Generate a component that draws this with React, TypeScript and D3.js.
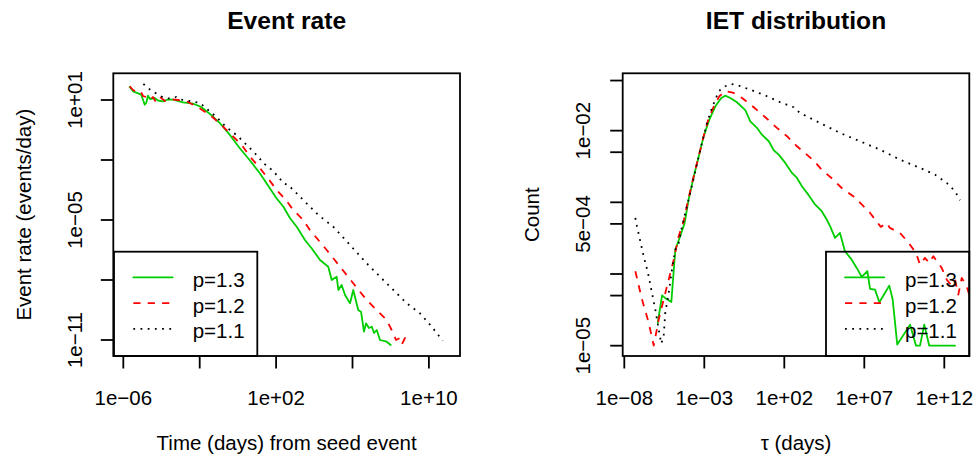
import React from "react";
import * as d3 from "d3";

// ---------- DATA (log10 values) ----------
// Left panel: Event rate vs time
const rateP13LogT = [-5.665,-5.49,-5.06,-4.88,-4.80,-4.71,-4.60,-4.36,-4.18,-3.92,-3.66,-3.40,-2.87,-2.35,-1.92,-1.48,-0.95,-0.43,0.09,0.62,1.14,1.49,2.01,2.38,2.73,3.08,3.51,3.86,4.30,4.73,4.91,5.17,5.26,5.43,5.61,5.87,6.04,6.30,6.45,6.60,6.71,6.86,7.01,7.13,7.27,7.44,7.79,8.0];
const rateP13LogR = [1.65,1.435,1.265,0.765,0.85,1.215,1.05,1.10,0.975,0.935,1.025,1.015,0.885,0.815,0.65,0.315,-0.15,-0.735,-1.4,-2.015,-2.65,-3.15,-3.9,-4.335,-4.915,-5.335,-6.0,-6.415,-7.0,-7.335,-8.0,-7.835,-8.5,-8.25,-8.75,-9.165,-8.5,-9.5,-9.6,-10.585,-10.165,-10.4,-10.335,-10.65,-10.5,-11.0,-11.085,-11.25];
const rateP12LogT = [-5.665,-5.49,-5.23,-5.07,-4.97,-4.81,-4.60,-4.45,-4.29,-4.08,-3.82,-3.55,-3.14,-2.72,-2.18,-1.48,-0.87,-0.35,0.20,0.62,1.16,1.63,2.03,2.50,2.90,3.37,3.77,4.65,5.35,6.04,6.74,7.35,7.79,8.05,8.28,8.49,8.59,8.75,8.80];
const rateP12LogR = [1.685,1.5,1.35,1.4,1.2,1.15,1.0,1.15,0.9,1.15,0.95,1.05,1.0,0.95,0.685,0.265,-0.235,-0.735,-1.25,-1.815,-2.415,-2.985,-3.5,-3.985,-4.5,-4.95,-5.5,-6.5,-7.335,-8.165,-9.0,-9.585,-10.0,-10.5,-11.0,-10.9,-11.2,-10.9,-11.25];
const rateP11LogT = [-4.95,-4.69,-4.50,-4.29,-4.08,-3.82,-3.55,-3.24,-3.03,-2.51,-1.98,-1.13,-0.61,0.005,0.53,1.05,1.33,1.58,2.10,2.38,2.62,3.15,3.42,3.67,4.21,4.99,5.87,6.74,7.44,8.14,8.84,9.53,10.15,10.72];
const rateP11LogR = [1.8,1.585,1.45,1.335,1.2,1.1,1.075,1.15,1.025,0.95,0.85,0.15,-0.35,-0.815,-1.315,-1.815,-2.165,-2.315,-2.815,-3.165,-3.235,-3.735,-4.0,-4.235,-4.75,-5.335,-6.25,-7.165,-7.835,-8.5,-9.165,-9.665,-10.335,-11.035];

// Right panel: IET distribution
const ietP13LogTau = [-5.91,-5.64,-5.47,-5.06,-4.81,-4.5,-4.23,-3.98,-3.66,-3.35,-3.04,-2.69,-2.31,-1.94,-1.69,-1.375,-0.96,-0.44,-0.125,0.29,0.6,1.03,1.34,1.65,2.06,2.48,2.79,3.1,3.5,3.92,4.34,4.65,4.86,5.17,5.48,5.79,6.21,6.525,6.84,7.19,7.36,7.67,7.94,8.29,8.56,8.775,9.06,9.54,9.86,10.23,10.48,10.75,11.06,12.67];
const ietP13LogCount = [-4.68,-4.30,-4.33,-4.39,-3.66,-3.47,-3.29,-2.96,-2.64,-2.36,-2.08,-1.85,-1.66,-1.544,-1.512,-1.544,-1.604,-1.715,-1.87,-1.96,-2.056,-2.148,-2.273,-2.335,-2.45,-2.59,-2.66,-2.775,-2.893,-3.03,-3.124,-3.24,-3.333,-3.497,-3.427,-3.682,-3.8,-3.915,-4.04,-3.961,-4.208,-4.218,-4.393,-4.264,-4.162,-4.357,-4.985,-4.82,-4.706,-5.0,-5.0,-4.706,-5.0,-5.0];
const ietP12LogTau = [-7.31,-6.89,-6.475,-6.16,-5.85,-5.54,-5.225,-4.91,-4.6,-4.29,-3.98,-3.66,-3.35,-3.04,-2.725,-2.35,-2.06,-1.69,-1.16,-0.64,0.09,0.81,1.54,2.17,2.79,3.29,3.81,4.34,5.06,5.59,6.31,6.84,7.36,8.03,8.4,8.6,9.23,9.69,10.23,10.48,10.79,11.06,11.31,11.84,12.15,12.4,12.67,12.875,13.09,13.4,13.6];
const ietP12LogCount = [-3.961,-4.357,-4.68,-5.0,-4.636,-4.357,-4.078,-3.8,-3.473,-3.264,-2.939,-2.636,-2.357,-2.078,-1.823,-1.637,-1.52,-1.45,-1.474,-1.544,-1.674,-1.813,-1.962,-2.078,-2.218,-2.311,-2.413,-2.544,-2.683,-2.8,-2.915,-3.03,-3.148,-3.343,-3.287,-3.357,-3.427,-3.543,-3.706,-3.869,-3.775,-3.845,-3.752,-3.915,-4.078,-4.148,-4.078,-4.287,-4.054,-4.17,-4.32];
const ietP11LogTau = [-7.31,-7.21,-7.0,-6.79,-6.52,-6.27,-6.06,-5.85,-5.69,-5.54,-5.44,-5.225,-5.02,-4.81,-4.6,-4.39,-3.98,-3.66,-3.25,-2.83,-2.52,-2.1,-1.69,-1.31,-0.85,-0.02,0.92,1.75,2.59,2.98,4.23,5.48,6.73,7.98,9.23,10.48,11.42,12.15,12.67,12.98];
const ietP11LogCount = [-3.218,-3.334,-3.543,-3.752,-3.985,-4.264,-4.496,-4.775,-4.971,-4.868,-4.543,-4.264,-3.939,-3.66,-3.566,-3.334,-2.96,-2.66,-2.265,-1.893,-1.683,-1.45,-1.381,-1.349,-1.372,-1.437,-1.52,-1.604,-1.674,-1.753,-1.893,-2.032,-2.148,-2.265,-2.404,-2.52,-2.614,-2.73,-2.845,-2.971];

// Tick values and labels
const rateXTicks = [1e-6, 1e-2, 1e2, 1e6, 1e10];
const rateXLabelValues = [1e-6, 1e2, 1e10];
const rateXLabels = ["1e\u221206", "1e+02", "1e+10"];
const rateYTicks = [1e1, 1e-2, 1e-5, 1e-8, 1e-11];
const rateYLabelValues = [1e1, 1e-5, 1e-11];
const rateYLabels = ["1e+01", "1e\u221205", "1e\u221211"];

const ietXTicks = [1e-8, 1e-3, 1e2, 1e7, 1e12];
const ietXLabelValues = [1e-8, 1e-3, 1e2, 1e7, 1e12];
const ietXLabels = ["1e\u221208", "1e\u221203", "1e+02", "1e+07", "1e+12"];
const ietYTicks = [5e-2, 1e-2, 5e-3, 1e-3, 5e-4, 1e-4, 5e-5, 1e-5];
const ietYLabelValues = [1e-2, 5e-4, 1e-5];
const ietYLabels = ["1e\u221202", "5e\u221204", "1e\u221205"];

const seriesNames = ["p=1.3", "p=1.2", "p=1.1"];

// ---------- STYLE ----------
const FONT = "'Liberation Sans', Arial, Helvetica, sans-serif";
const FS = 20.5;
const TITLE_FS = 24.6;
const LW = 1.8;
const TICK = 12.5;
const styles = [
  { color: "#00CD00", dash: undefined as string | undefined, cap: "round" as const },
  { color: "#FF0000", dash: "7.2,7.2", cap: "butt" as const },
  { color: "#000000", dash: "1.8,5.4", cap: "butt" as const },
];

type PanelProps = {
  id: string;
  box: { l: number; r: number; t: number; b: number };
  xLogDomain: [number, number];
  yLogDomain: [number, number];
  series: { x: number[]; y: number[] }[];
  xTicks: number[];
  xLabelValues: number[];
  xLabels: string[];
  yTicks: number[];
  yLabelValues: number[];
  yLabels: string[];
  title: string;
  xTitle: string;
  yTitle: string;
  yTitleX: number;
  yLabelX: number;
  legend: { l: number; r: number; lineX0: number; lineX1: number; textX: number };
};

function Panel(p: PanelProps) {
  const { box } = p;
  const xs = d3.scaleLog().domain([10 ** p.xLogDomain[0], 10 ** p.xLogDomain[1]]).range([box.l, box.r]);
  const ys = d3.scaleLog().domain([10 ** p.yLogDomain[0], 10 ** p.yLogDomain[1]]).range([box.b, box.t]);
  const line = d3
    .line<[number, number]>()
    .x((d) => xs(10 ** d[0]))
    .y((d) => ys(10 ** d[1]));
  const cx = (box.l + box.r) / 2;
  const cy = (box.t + box.b) / 2;
  const legendRows = [286.7, 312.5, 338.3];
  return (
    <g>
      <defs>
        <clipPath id={`clip-${p.id}`}>
          <rect x={box.l} y={box.t} width={box.r - box.l} height={box.b - box.t} />
        </clipPath>
      </defs>
      <g clipPath={`url(#clip-${p.id})`}>
        {p.series.map((s, i) => (
          <path
            key={i}
            d={line(s.x.map((v, k) => [v, s.y[k]] as [number, number])) || ""}
            fill="none"
            stroke={styles[i].color}
            strokeWidth={LW}
            strokeDasharray={styles[i].dash}
            strokeLinecap={styles[i].cap}
            strokeLinejoin="round"
          />
        ))}
      </g>
      {/* legend */}
      <rect
        x={p.legend.l}
        y={251.7}
        width={p.legend.r - p.legend.l}
        height={box.b - 251.7}
        fill="none"
        stroke="#000"
        strokeWidth={LW}
      />
      {seriesNames.map((n, i) => (
        <g key={n}>
          <line
            x1={p.legend.lineX0}
            x2={p.legend.lineX1}
            y1={legendRows[i] - 9.4}
            y2={legendRows[i] - 9.4}
            stroke={styles[i].color}
            strokeWidth={LW}
            strokeDasharray={styles[i].dash}
            strokeLinecap={styles[i].cap}
          />
          <text x={p.legend.textX} y={legendRows[i]} fontSize={FS} fontFamily={FONT} fill="#000">
            {n}
          </text>
        </g>
      ))}
      {/* box */}
      <rect
        x={box.l}
        y={box.t}
        width={box.r - box.l}
        height={box.b - box.t}
        fill="none"
        stroke="#000"
        strokeWidth={LW}
      />
      {/* x axis */}
      {p.xTicks.map((t) => (
        <line key={"xt" + t} x1={xs(t)} x2={xs(t)} y1={box.b} y2={box.b + TICK} stroke="#000" strokeWidth={LW} />
      ))}
      {p.xLabelValues.map((t, i) => (
        <text key={"xl" + t} x={xs(t)} y={405} textAnchor="middle" fontSize={FS} fontFamily={FONT}>
          {p.xLabels[i]}
        </text>
      ))}
      {/* y axis */}
      {p.yTicks.map((t) => (
        <line key={"yt" + t} x1={box.l - TICK} x2={box.l} y1={ys(t)} y2={ys(t)} stroke="#000" strokeWidth={LW} />
      ))}
      {p.yLabelValues.map((t, i) => (
        <text
          key={"yl" + t}
          transform={`translate(${p.yLabelX},${ys(t)}) rotate(-90)`}
          textAnchor="middle"
          dy="0.35em"
          fontSize={FS}
          fontFamily={FONT}
        >
          {p.yLabels[i]}
        </text>
      ))}
      {/* titles */}
      <text x={cx} y={29} textAnchor="middle" fontSize={TITLE_FS} fontWeight="bold" fontFamily={FONT}>
        {p.title}
      </text>
      <text x={cx} y={450} textAnchor="middle" fontSize={FS} fontFamily={FONT}>
        {p.xTitle}
      </text>
      <text
        transform={`translate(${p.yTitleX},${cy}) rotate(-90)`}
        textAnchor="middle"
        dy="0.35em"
        fontSize={FS}
        fontFamily={FONT}
      >
        {p.yTitle}
      </text>
    </g>
  );
}

export default function App() {
  return (
    <svg
      width={977}
      height={462}
      style={{ position: "absolute", left: 0, top: 0, background: "#fff" }}
    >
      <rect width={977} height={462} fill="#fff" />
      <Panel
        id="rate"
        box={{ l: 113.3, r: 460, t: 73.3, b: 356 }}
        xLogDomain={[-6.524, 11.628]}
        yLogDomain={[-11.8, 2.335]}
        series={[
          { x: rateP13LogT, y: rateP13LogR },
          { x: rateP12LogT, y: rateP12LogR },
          { x: rateP11LogT, y: rateP11LogR },
        ]}
        xTicks={rateXTicks}
        xLabelValues={rateXLabelValues}
        xLabels={rateXLabels}
        yTicks={rateYTicks}
        yLabelValues={rateYLabelValues}
        yLabels={rateYLabels}
        title="Event rate"
        xTitle="Time (days) from seed event"
        yTitle="Event rate (events/day)"
        yTitleX={24}
        yLabelX={75}
        legend={{ l: 114, r: 257.3, lineX0: 133.3, lineX1: 172.7, textX: 192.7 }}
      />
      <Panel
        id="iet"
        box={{ l: 622.7, r: 969.3, t: 73.3, b: 356 }}
        xLogDomain={[-8.1, 13.5625]}
        yLogDomain={[-5.144, -1.2]}
        series={[
          { x: ietP13LogTau, y: ietP13LogCount },
          { x: ietP12LogTau, y: ietP12LogCount },
          { x: ietP11LogTau, y: ietP11LogCount },
        ]}
        xTicks={ietXTicks}
        xLabelValues={ietXLabelValues}
        xLabels={ietXLabels}
        yTicks={ietYTicks}
        yLabelValues={ietYLabelValues}
        yLabels={ietYLabels}
        title="IET distribution"
        xTitle={"\u03C4 (days)"}
        yTitle="Count"
        yTitleX={532}
        yLabelX={583.3}
        legend={{ l: 826, r: 969.3, lineX0: 845, lineX1: 884.3, textX: 905 }}
      />
    </svg>
  );
}
